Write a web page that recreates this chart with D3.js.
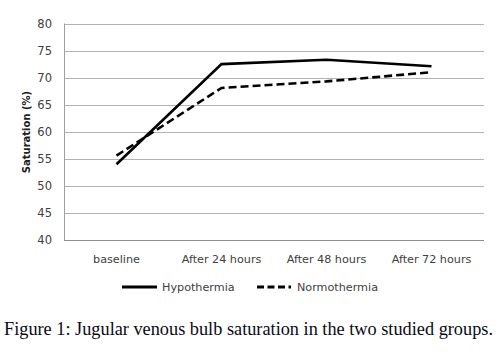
<!DOCTYPE html>
<html><head><meta charset="utf-8">
<script src="https://cdn.jsdelivr.net/npm/d3@7"></script>
<style>body{margin:0;background:#fff}svg{display:block}</style>
</head><body>
<script>
const categories = ["baseline","After 24 hours","After 48 hours","After 72 hours"];
const hypothermia = [54.0, 72.5, 73.3, 72.1];
const normothermia = [55.6, 68.1, 69.3, 71.0];
const yTicks = [40,45,50,55,60,65,70,75,80];
const seriesNames = ["Hypothermia","Normothermia"];
const caption = "Figure 1: Jugular venous bulb saturation in the two studied groups.";

const W=501,H=359;
const svg=d3.select("body").append("svg").attr("width",W).attr("height",H);
const m={l:64,r:484,t:23.5,b:240};
const x=d3.scaleBand().domain(categories).range([m.l,m.r]);
const y=d3.scaleLinear().domain([40,80]).range([m.b,m.t]);
const font="DejaVu Sans, Verdana, sans-serif";
const tc="#404040";

// grid
svg.append("g").selectAll("line").data(yTicks).join("line")
  .attr("x1",m.l).attr("x2",m.r).attr("y1",d=>Math.round(y(d))+0.5).attr("y2",d=>Math.round(y(d))+0.5)
  .attr("stroke","#b3b3b3").attr("stroke-width",1);
// left axis line
svg.append("line").attr("x1",m.l+0.5).attr("x2",m.l+0.5).attr("y1",m.t).attr("y2",m.b+0.5).attr("stroke","#a0a0a0");
// bottom axis
svg.append("line").attr("x1",m.l).attr("x2",m.r).attr("y1",Math.round(m.b)+0.5).attr("y2",Math.round(m.b)+0.5).attr("stroke","#8c8c8c");

// y tick labels
svg.append("g").selectAll("text").data(yTicks).join("text")
  .attr("x",52).attr("y",d=>y(d)+4).attr("text-anchor","end")
  .attr("font-family",font).attr("font-size",11.5).attr("fill",tc).text(d=>d);
// x labels
svg.append("g").selectAll("text").data(categories).join("text")
  .attr("x",d=>x(d)+x.bandwidth()/2).attr("y",263).attr("text-anchor","middle")
  .attr("font-family",font).attr("font-size",11.2).attr("fill",tc).text(d=>d);
// y title
svg.append("text").attr("transform","translate(30,132) rotate(-90)").attr("text-anchor","middle")
  .attr("font-family",font).attr("font-size",10).attr("font-weight","bold").attr("fill","#202020").text("Saturation (%)");

const line=d3.line().x((d,i)=>x(categories[i])+x.bandwidth()/2).y(d=>y(d));
svg.append("path").datum(hypothermia).attr("d",line).attr("fill","none").attr("stroke","#000").attr("stroke-width",2.6);
svg.append("path").datum(normothermia).attr("d",line).attr("fill","none").attr("stroke","#000").attr("stroke-width",2.6).attr("stroke-dasharray","8,4");

// legend
const lg=svg.append("g");
lg.append("line").attr("x1",122).attr("x2",157).attr("y1",287).attr("y2",287).attr("stroke","#000").attr("stroke-width",3);
lg.append("text").attr("x",162).attr("y",291).attr("font-family",font).attr("font-size",11.2).attr("fill",tc).text(seriesNames[0]);
lg.append("line").attr("x1",257).attr("x2",291).attr("y1",287).attr("y2",287).attr("stroke","#000").attr("stroke-width",3).attr("stroke-dasharray","7,3.5");
lg.append("text").attr("x",297).attr("y",291).attr("font-family",font).attr("font-size",11.2).attr("fill",tc).text(seriesNames[1]);

// caption
svg.append("text").attr("x",4).attr("y",335).attr("font-family","Liberation Serif, Times New Roman, serif").attr("font-size",18.3).attr("fill","#0a0a14").text(caption);
</script>
</body></html>
